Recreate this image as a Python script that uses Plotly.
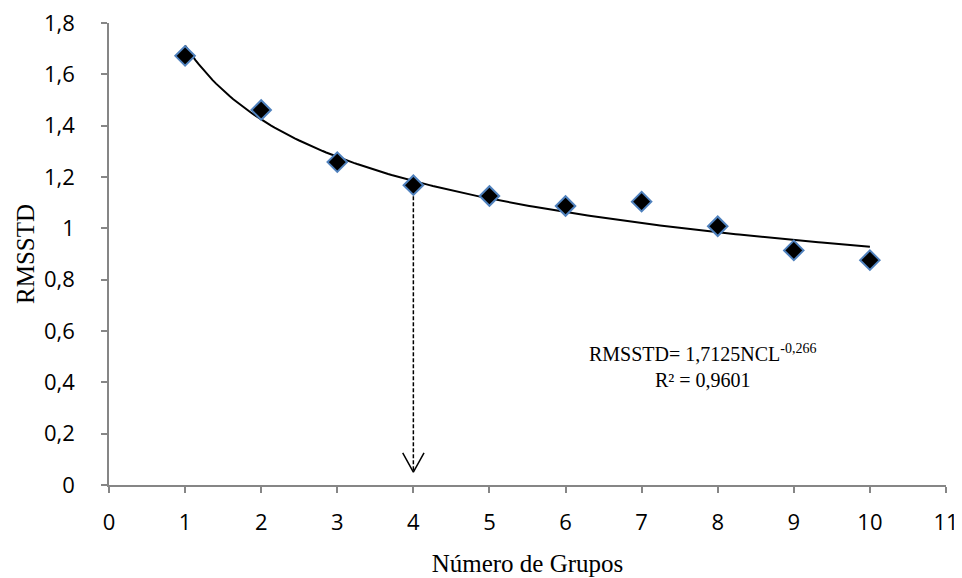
import numpy as np
import plotly.graph_objects as go

# Data
grupos = [1, 2, 3, 4, 5, 6, 7, 8, 9, 10]
rmsstd = [1.672, 1.461, 1.258, 1.168, 1.126, 1.087, 1.104, 1.008, 0.914, 0.876]

# Fitted power trend (from the chart's equation)
coef_a = 1.7125
coef_b = -0.266
trend_x = np.linspace(1, 10, 200)
trend_y = coef_a * trend_x ** coef_b

# Arrow marking the chosen number of groups
arrow_x = 4
arrow_top = 1.125
arrow_bottom = 0.05
head_dx = 0.14
head_dy = 0.075

fig = go.Figure()

fig.add_trace(go.Scatter(
    x=[arrow_x, arrow_x], y=[arrow_top, arrow_bottom], mode="lines",
    line=dict(color="black", width=1.5, dash="4px,2px"), hoverinfo="skip", showlegend=False))
fig.add_trace(go.Scatter(
    x=[arrow_x - head_dx, arrow_x, arrow_x + head_dx],
    y=[arrow_bottom + head_dy, arrow_bottom, arrow_bottom + head_dy], mode="lines",
    line=dict(color="black", width=1.5), hoverinfo="skip", showlegend=False))

fig.add_trace(go.Scatter(
    x=trend_x, y=trend_y, mode="lines",
    line=dict(color="black", width=2), showlegend=False))

fig.add_trace(go.Scatter(
    x=grupos, y=rmsstd, mode="markers",
    marker=dict(symbol="diamond", size=15, color="black",
                line=dict(color="#4F81BD", width=2)),
    showlegend=False))

fig.add_annotation(
    x=7.8, y=0.465, xref="x", yref="y", showarrow=False,
    text="RMSSTD= 1,7125NCL<sup>-0,266</sup><br>R² = 0,9601",
    font=dict(family="Liberation Serif", size=20, color="black"),
    align="center")

axis_common = dict(
    showgrid=False, zeroline=False, showline=True, linecolor="#868686", linewidth=1.5,
    ticks="outside", tickcolor="#868686", ticklen=6, tickwidth=1.5,
    tickfont=dict(family="Open Sans", size=22, color="black"), automargin=False,
    ticklabeloverflow="allow",
)

# The page body has an 8px margin, so the figure is sized to fit the window
fig.update_layout(
    width=954, height=570,
    margin=dict(l=101, r=16, t=15, b=93),
    paper_bgcolor="white", plot_bgcolor="white",
    separators=",.",
    xaxis=dict(range=[0, 11], tickvals=list(range(0, 12)), ticklabelstandoff=11, **axis_common,
               title=dict(text="Número de Grupos", font=dict(family="Liberation Serif", size=25, color="black"), standoff=19)),
    yaxis=dict(range=[0, 1.8], tickvals=[0, 0.2, 0.4, 0.6, 0.8, 1, 1.2, 1.4, 1.6, 1.8], ticklabelstandoff=22, **axis_common,
               title=dict(text="RMSSTD", font=dict(family="Liberation Serif", size=25, color="black"), standoff=2)),
)

fig.write_html("out.html")
